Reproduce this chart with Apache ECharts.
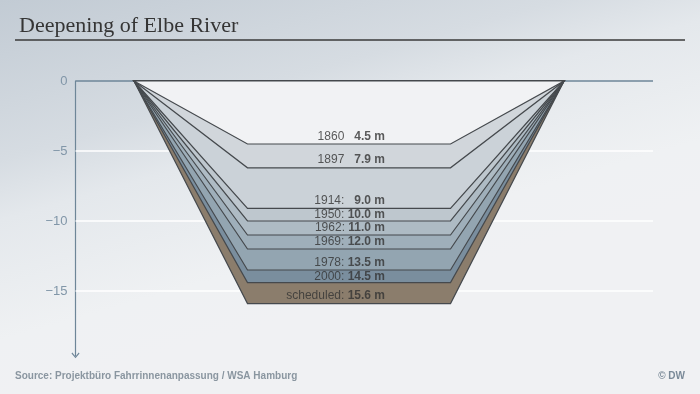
<!DOCTYPE html>
<html>
<head>
<meta charset="utf-8">
<script src="https://cdn.jsdelivr.net/npm/echarts@6/dist/echarts.min.js"></script>
<style>html,body{margin:0;padding:0;}#c{width:700px;height:394px;}</style>
</head>
<body>
<div id="c"></div>
<script>
// Profiles from shallowest to deepest
var years = ['1860', '1897', '1914:', '1950:', '1962:', '1969:', '1978:', '2000:', 'scheduled:'];
var labelValues = ['4.5', '7.9', '9.0', '10.0', '11.0', '12.0', '13.5', '14.5', '15.6'];
var drawnDepths = [4.5, 6.2, 9.1, 10.0, 11.0, 12.0, 13.5, 14.4, 15.9];
var fills = ['#f1f2f4', '#d1d6db', '#cbd2d8', '#bec7ce', '#aebbc4', '#9fafba', '#93a5b1', '#7a8e9e', '#8b7d6c'];
var topHalfWidth = 215;
var bottomHalfWidth = 101.5;
var yTicks = [0, -5, -10, -15];
var gridLines = [-5, -10, -15];

var chart = echarts.init(document.getElementById('c'), null, {renderer: 'canvas'});

// deepest drawn first
var polyData = [];
for (var i = drawnDepths.length - 1; i >= 0; i--) polyData.push([i]);

var labelData = drawnDepths.map(function (d, i) {
  var prev = i === 0 ? 0 : drawnDepths[i - 1];
  var depth = Math.max((prev + d) / 2, d - 0.55);
  var pad = labelValues[i].length === 3 ? '   ' : ' ';
  return {
    value: [36, -depth],
    label: {formatter: '{y|' + years[i] + '}' + pad + '{v|' + labelValues[i] + ' m}'}
  };
});

var option = {
  backgroundColor: {
    type: 'linear', x: 0, y: 0, x2: 0.151, y2: 0.94,
    colorStops: [
      {offset: 0, color: '#c2cbd4'},
      {offset: 0.4, color: '#d6dce2'},
      {offset: 0.55, color: '#e4e8ec'},
      {offset: 0.85, color: '#eff1f3'},
      {offset: 1, color: '#f0f1f3'}
    ]
  },
  animation: false,
  title: {
    text: 'Deepening of Elbe River',
    left: 14, top: 10,
    textStyle: {fontFamily: 'Liberation Serif', fontWeight: 'normal', fontSize: 22, color: '#353535'}
  },
  graphic: [
    {type: 'line', shape: {x1: 15, y1: 40, x2: 685, y2: 40}, style: {stroke: '#3a3a3a', lineWidth: 1.5}},
    {type: 'text', left: 15, top: 371, style: {text: 'Source: Projektbüro Fahrrinnenanpassung / WSA Hamburg', fontFamily: 'Liberation Sans', fontWeight: 'bold', fontSize: 10, fill: '#8a96a0'}},
    {type: 'text', right: 15, top: 371, style: {text: '© DW', fontFamily: 'Liberation Sans', fontWeight: 'bold', fontSize: 10, fill: '#7a8a98'}}
  ],
  grid: {left: 75.5, right: 47, top: 81, bottom: 38.6},
  xAxis: {
    type: 'value', min: -273.5, max: 304,
    show: false
  },
  yAxis: {
    type: 'value', min: -19.6, max: 0,
    axisLine: {
      show: true,
      onZero: false,
      symbol: ['path://M0,6 L5,0 L10,6 L9,7 L5,2 L1,7 Z', 'none'],
      symbolSize: [8, 6],
      lineStyle: {color: '#6e8698', width: 1.2}
    },
    axisTick: {show: false},
    splitLine: {show: false},
    axisLabel: {
      customValues: yTicks,
      margin: 8,
      color: '#8196a8',
      fontFamily: 'Liberation Sans',
      fontSize: 13,
      formatter: function (v) { return v < 0 ? '\u2212' + Math.abs(v) : String(v); }
    }
  },
  series: [
    {
      type: 'line', data: [], z: 1, silent: true,
      markLine: {
        silent: true, symbol: 'none', label: {show: false}, z: 1,
        data: gridLines.map(function (g) { return {yAxis: g, lineStyle: {color: '#ffffff', width: 1.5, type: 'solid'}}; })
          .concat([{yAxis: 0, lineStyle: {color: '#6e8698', width: 1.5, type: 'solid'}}])
      }
    },
    {
      type: 'custom', z: 10, silent: true,
      data: polyData,
      renderItem: function (params, api) {
        var i = api.value(0);
        var d = drawnDepths[i];
        var pts = [
          api.coord([-topHalfWidth, 0]),
          api.coord([-bottomHalfWidth, -d]),
          api.coord([bottomHalfWidth, -d]),
          api.coord([topHalfWidth, 0])
        ];
        return {
          type: 'polygon',
          shape: {points: pts},
          style: {fill: fills[i], stroke: '#45494d', lineWidth: 1.2}
        };
      }
    },
    {
      type: 'scatter', z: 11, silent: true,
      symbolSize: 0,
      data: labelData,
      label: {
        show: true, position: 'inside', align: 'right', verticalAlign: 'middle',
        rich: {
          y: {fontFamily: 'Liberation Sans', fontSize: 12, color: '#333333'},
          v: {fontFamily: 'Liberation Sans', fontSize: 12, fontWeight: 'bold', color: '#333333'}
        }
      }
    }
  ]
};
chart.setOption(option);
</script>
</body>
</html>
